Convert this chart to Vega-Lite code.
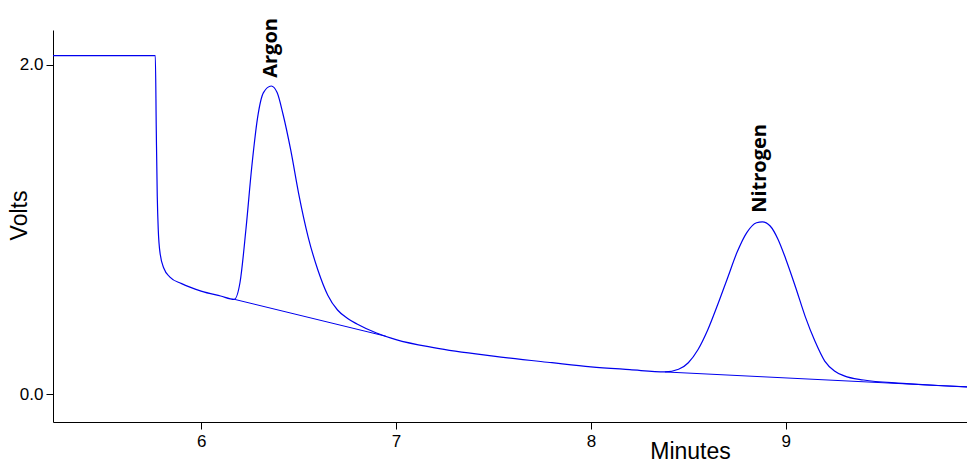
{
  "$schema": "https://vega.github.io/schema/vega-lite/v6.json",
  "width": 914,
  "height": 392,
  "autosize": {"type": "none"},
  "padding": {"left": 53, "top": 30, "right": 0, "bottom": 40},
  "background": "white",
  "config": {
    "view": {"stroke": null},
    "font": "Liberation Sans",
    "axis": {"grid": false, "domainColor": "black", "tickColor": "black", "labelColor": "black", "titleColor": "black", "labelFontSize": 17, "titleFontSize": 23, "titleFontWeight": "normal", "tickSize": 7, "labelFont": "Liberation Sans", "titleFont": "Liberation Sans"}
  },
  "datasets": {
    "trace": [
      {"t": 5.24, "v": 2.055}, {"t": 5.765, "v": 2.055}, {"t": 5.77, "v": 1.6}, {"t": 5.775, "v": 1.2},
      {"t": 5.78, "v": 1.0}, {"t": 5.79, "v": 0.85}, {"t": 5.81, "v": 0.76}, {"t": 5.84, "v": 0.71},
      {"t": 5.9, "v": 0.67}, {"t": 6.0, "v": 0.625}, {"t": 6.1, "v": 0.595}, {"t": 6.17, "v": 0.575},
      {"t": 6.2, "v": 0.68}, {"t": 6.23, "v": 1.0}, {"t": 6.26, "v": 1.38}, {"t": 6.29, "v": 1.68},
      {"t": 6.32, "v": 1.83}, {"t": 6.36, "v": 1.87}, {"t": 6.39, "v": 1.83}, {"t": 6.42, "v": 1.7},
      {"t": 6.46, "v": 1.48}, {"t": 6.5, "v": 1.22}, {"t": 6.55, "v": 0.95}, {"t": 6.6, "v": 0.75},
      {"t": 6.65, "v": 0.6}, {"t": 6.7, "v": 0.51}, {"t": 6.75, "v": 0.46}, {"t": 6.8, "v": 0.425},
      {"t": 6.9, "v": 0.37}, {"t": 7.0, "v": 0.33}, {"t": 7.2, "v": 0.28}, {"t": 7.5, "v": 0.23},
      {"t": 7.8, "v": 0.19}, {"t": 8.0, "v": 0.165}, {"t": 8.2, "v": 0.148}, {"t": 8.38, "v": 0.134},
      {"t": 8.45, "v": 0.15}, {"t": 8.5, "v": 0.19}, {"t": 8.55, "v": 0.27}, {"t": 8.6, "v": 0.39},
      {"t": 8.65, "v": 0.54}, {"t": 8.7, "v": 0.7}, {"t": 8.75, "v": 0.86}, {"t": 8.8, "v": 0.98},
      {"t": 8.85, "v": 1.04}, {"t": 8.88, "v": 1.045}, {"t": 8.92, "v": 1.02}, {"t": 8.96, "v": 0.94},
      {"t": 9.0, "v": 0.82}, {"t": 9.05, "v": 0.65}, {"t": 9.1, "v": 0.47}, {"t": 9.15, "v": 0.32},
      {"t": 9.2, "v": 0.2}, {"t": 9.25, "v": 0.14}, {"t": 9.3, "v": 0.11}, {"t": 9.4, "v": 0.085},
      {"t": 9.6, "v": 0.065}, {"t": 9.8, "v": 0.05}, {"t": 9.93, "v": 0.043}
    ],
    "baseline": [
      {"seg": "argon", "t": 6.17, "v": 0.575}, {"seg": "argon", "t": 6.95, "v": 0.35},
      {"seg": "nitrogen", "t": 8.38, "v": 0.134}, {"seg": "nitrogen", "t": 9.93, "v": 0.043}
    ],
    "labels": [
      {"name": "Argon", "t": 6.36, "v": 1.92},
      {"name": "Nitrogen", "t": 8.87, "v": 1.1}
    ]
  },
  "layer": [
    {
      "data": {"name": "trace"},
      "mark": {"type": "line", "color": "#0000ee", "strokeWidth": 1.2, "interpolate": "monotone"},
      "encoding": {
        "x": {"field": "t", "type": "quantitative", "scale": {"domain": [5.24, 9.93], "nice": false, "zero": false},
          "axis": {"values": [6, 7, 8, 9], "format": "d", "title": "Minutes", "titleX": 637, "titleY": 29, "titleBaseline": "middle", "labelPadding": 4}},
        "y": {"field": "v", "type": "quantitative", "scale": {"domain": [-0.17, 2.21], "nice": false, "zero": false},
          "axis": {"values": [0, 2], "format": ".1f", "title": "Volts", "titleX": -22, "titleY": 185, "labelPadding": 3}}
      }
    },
    {
      "data": {"name": "baseline"},
      "mark": {"type": "line", "color": "#0000ee", "strokeWidth": 1},
      "encoding": {
        "x": {"field": "t", "type": "quantitative"},
        "y": {"field": "v", "type": "quantitative"},
        "detail": {"field": "seg"}
      }
    },
    {
      "data": {"name": "labels"},
      "mark": {"type": "text", "angle": 270, "align": "left", "baseline": "middle", "fontSize": 20, "fontWeight": "bold", "font": "Open Sans", "color": "black"},
      "encoding": {
        "x": {"field": "t", "type": "quantitative"},
        "y": {"field": "v", "type": "quantitative"},
        "text": {"field": "name"}
      }
    }
  ]
}
